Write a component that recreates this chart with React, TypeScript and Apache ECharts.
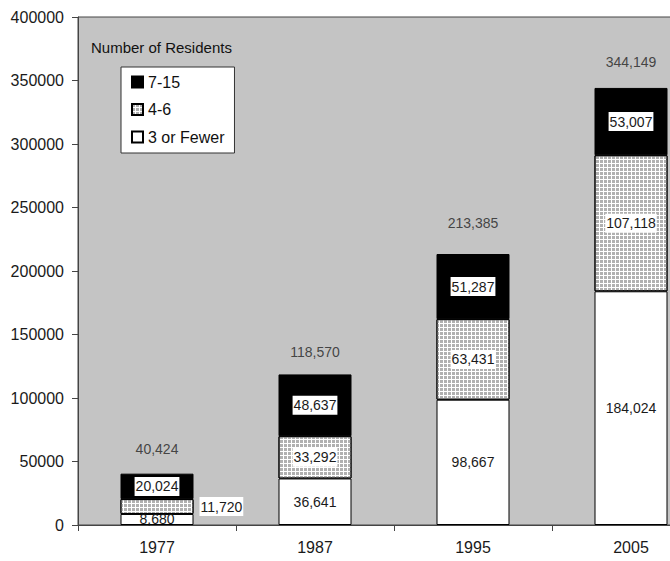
import React, { useEffect, useRef } from "react";
import * as echarts from "echarts";

const years = ["1977", "1987", "1995", "2005"];
const fewer3 = [8680, 36641, 98667, 184024];
const mid46 = [11720, 33292, 63431, 107118];
const large715 = [20024, 48637, 51287, 53007];
const totals = [40424, 118570, 213385, 344149];
const totalLabelGap = [17, 15, 24, 18];
const legendNames = ["7-15", "4-6", "3 or Fewer"];

const FONT = "'Liberation Sans', Arial, Helvetica, sans-serif";
const fmt = (v: number) => v.toLocaleString("en-US");

export default function App() {
  const ref = useRef<HTMLDivElement>(null);
  useEffect(() => {
    if (!ref.current) return;
    const chart = echarts.init(ref.current, null, { renderer: "svg" });
    const boxLabel = {
      show: true,
      position: "inside",
      color: "#1a1a1a",
      fontSize: 14,
      fontFamily: FONT,
      backgroundColor: "#fff",
      padding: [3, 1, 2, 1],
      formatter: (p: any) => fmt(p.value),
    };
    chart.setOption({
      animation: false,
      textStyle: { fontFamily: FONT },
      title: {
        text: "Number of Residents",
        left: 91,
        top: 40,
        padding: 0,
        textStyle: { fontSize: 15, fontWeight: "normal", color: "#111", fontFamily: FONT },
      },
      legend: {
        data: legendNames,
        orient: "vertical",
        left: 121,
        top: 67,
        backgroundColor: "#fff",
        borderColor: "#333",
        borderWidth: 1,
        borderRadius: 0,
        padding: [7, 10, 8, 10],
        itemGap: 11.5,
        itemWidth: 11,
        itemHeight: 11,
        icon: "rect",
        textStyle: { fontSize: 16, lineHeight: 16, color: "#111", fontFamily: FONT },
      },
      grid: {
        left: 78,
        top: 17,
        right: 0,
        bottom: 36,
        show: true,
        backgroundColor: "#c4c4c4",
        borderColor: "#444",
        borderWidth: 1,
      },
      xAxis: {
        type: "category",
        data: years,
        axisLine: { lineStyle: { color: "#444", width: 1 } },
        axisTick: { show: true, length: 6, lineStyle: { color: "#444" } },
        axisLabel: { fontSize: 16, color: "#1a1a1a", margin: 14, fontFamily: FONT },
      },
      yAxis: {
        type: "value",
        min: 0,
        max: 400000,
        interval: 50000,
        axisLine: { show: true, lineStyle: { color: "#444", width: 1 } },
        axisTick: { show: true, length: 6, lineStyle: { color: "#444" } },
        splitLine: { show: false },
        axisLabel: {
          fontSize: 16,
          color: "#1a1a1a",
          margin: 14,
          fontFamily: FONT,
          formatter: (v: number) => String(v),
        },
      },
      series: [
        {
          name: "3 or Fewer",
          type: "bar",
          stack: "t",
          barWidth: 73,
          data: fewer3,
          itemStyle: { color: "#fff", borderColor: "#000", borderWidth: 1 },
          label: { ...boxLabel, backgroundColor: "transparent" },
        },
        {
          name: "4-6",
          type: "bar",
          stack: "t",
          barWidth: 73,
          data: mid46.map((v, i) =>
            i === 0
              ? { value: v, label: { position: "right", distance: 6 } }
              : { value: v }
          ),
          itemStyle: {
            color: "#ffffff",
            borderColor: "#000",
            borderWidth: 1,
            decal: {
              symbol: "rect",
              symbolSize: 1,
              dashArrayX: [3, 1],
              dashArrayY: [3, 1],
              rotation: 0,
              color: "#b0b0b0",
            },
          },
          label: boxLabel,
        },
        {
          name: "7-15",
          type: "bar",
          stack: "t",
          barWidth: 73,
          data: large715,
          itemStyle: { color: "#000", borderColor: "#000", borderWidth: 1 },
          label: boxLabel,
        },
        {
          name: "Total",
          type: "scatter",
          symbolSize: 1,
          itemStyle: { color: "transparent" },
          data: totals.map((v, i) => ({
            value: v,
            label: { distance: totalLabelGap[i] },
          })),
          label: {
            show: true,
            position: "top",
            color: "#222",
            fontSize: 14,
            fontFamily: FONT,
            formatter: (p: any) => fmt(p.value),
          },
        },
      ],
    });
    return () => chart.dispose();
  }, []);
  return (
    <div
      style={{
        position: "absolute",
        left: 0,
        top: 0,
        width: 670,
        height: 561,
        overflow: "hidden",
        background: "#fff",
      }}
    >
      <div ref={ref} style={{ width: 710, height: 561 }} />
    </div>
  );
}
